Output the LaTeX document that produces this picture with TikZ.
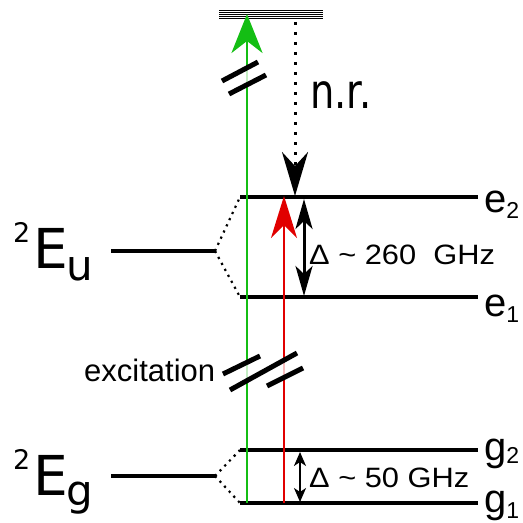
\documentclass[tikz,border=0pt]{standalone}
\usepackage{fontspec}
\setmainfont{Liberation Sans}
\newfontfamily\termfont{DejaVu Sans}
\newfontfamily\nrfont[FakeStretch=0.8]{DejaVu Sans}
\newfontfamily\widefont[FakeStretch=1.1]{Liberation Sans}
\usetikzlibrary{arrows.meta}
\definecolor{excGreen}{RGB}{20,190,20}
\definecolor{excRed}{RGB}{225,0,0}
\tikzset{
  lvl/.style={line width=3.3bp, black},
  topbar/.style={line width=1bp, black},
  splitdots/.style={line width=2.2bp, dash pattern=on 2.2bp off 4.6bp},
  brk/.style={line width=5bp, black},
  brkgap/.style={fill=white, opacity=0.75},
  pumparr/.style={line width=2.8bp, draw=#1, fill=#1,
    -{Stealth[length=39bp,width=31bp,inset=12bp]}},
  probearr/.style={line width=2bp, draw=#1, fill=#1,
    -{Stealth[length=42bp,width=26bp,inset=13bp]}},
  nrarr/.style={line width=3bp, dash pattern=on 3bp off 7bp,
    -{Stealth[length=44bp,width=26bp,inset=14bp]}},
  splitarr/.style={line width=3bp,
    {Stealth[length=30bp,width=17bp,inset=8bp]}-{Stealth[length=30bp,width=17bp,inset=8bp]}},
  smallsplitarr/.style={line width=2bp,
    {Stealth[length=14bp,width=12bp,inset=4bp]}-{Stealth[length=14bp,width=12bp,inset=4bp]}},
  lbl/.style={anchor=base west, inner sep=0pt},
}

\begin{document}
\begin{tikzpicture}[x=1bp,y=-1bp]
  \useasboundingbox (0,0) rectangle (523,523);

  % Level end points
  \coordinate (top1) at (219,15);  \coordinate (top2) at (323,15);
  \coordinate (eu1) at (111,251);  \coordinate (eu2) at (215,251);
  \coordinate (eg1) at (111,476);  \coordinate (eg2) at (215,476);
  \coordinate (e2a) at (240,197);  \coordinate (e2b) at (478,197);
  \coordinate (e1a) at (240,297);  \coordinate (e1b) at (478,297);
  \coordinate (g2a) at (240,450);  \coordinate (g2b) at (478,450);
  \coordinate (g1a) at (240,503);  \coordinate (g1b) at (478,503);

  % Top level
  \foreach \dy in {-4,-2,0,2,4}
    \draw[topbar] ([yshift=\dy bp]top1) -- ([yshift=\dy bp]top2);

  % Levels and splittings
  \draw[lvl] (eu1) -- (eu2);
  \draw[lvl] (eg1) -- (eg2);
  \draw[lvl] (e2a) -- (e2b);
  \draw[lvl] (e1a) -- (e1b);
  \draw[lvl] (g2a) -- (g2b);
  \draw[lvl] (g1a) -- (g1b);
  \draw[splitdots] (eu2) -- (e2a);
  \draw[splitdots] (eu2) -- (e1a);
  \draw[splitdots] (eg2) -- (g2a);
  \draw[splitdots] (eg2) -- (g1a);

  % Transition end points
  \coordinate (grnbot) at (247,503); \coordinate (grntop) at (247,14);
  \coordinate (redbot) at (284,503); \coordinate (redtop) at (284,196);
  \coordinate (nrtop) at (295,22);   \coordinate (nrbot) at (295,196);
  \coordinate (dbtop) at (304,199);  \coordinate (dbbot) at (304,296);
  \coordinate (dstop) at (300,452);  \coordinate (dsbot) at (300,502);

  % Arrows
  \draw[pumparr=excGreen] (grnbot) -- (grntop);
  \draw[probearr=excRed]  (redbot) -- (redtop);
  \draw[nrarr]            (nrtop)  -- (nrbot);
  \draw[splitarr]         (dbtop)  -- (dbbot);
  \draw[smallsplitarr]    (dstop)  -- (dsbot);

  % Break marks
  \fill[brkgap] (222,81) -- (258,62) -- (266,75) -- (229,94) -- cycle;
  \draw[brk] (222,81) -- (258,62);
  \draw[brk] (229,94) -- (266,75);
  \fill[brkgap] (223,374) -- (260,356) -- (260,373.4) -- (230,390) -- cycle;
  \fill[brkgap] (267,369.6) -- (297,353) -- (303,368) -- (267,386) -- cycle;
  \draw[brk] (223,374) -- (260,356);
  \draw[brk] (230,390) -- (297,353);
  \draw[brk] (267,386) -- (303,368);

  % Labels
  \node[lbl, font=\nrfont\fontsize{48bp}{52bp}\selectfont] (lblnr) at (310,109) {n.r.};
  \node[lbl, font=\widefont\fontsize{28bp}{31bp}\selectfont] (lblbig) at (309,264)
    {Δ \textasciitilde{} 260\ \ GHz};
  \node[lbl, font=\widefont\fontsize{28bp}{31bp}\selectfont] (lblsmall) at (309,487)
    {Δ \textasciitilde{} 50 GHz};
  \node[lbl, font=\fontsize{31bp}{35bp}\selectfont] (lblexc) at (84,381) {excitation};

  \node[lbl, font=\fontsize{40bp}{44bp}\selectfont] (lble2) at (484,212)
    {e\raisebox{-6bp}{\fontsize{23bp}{26bp}\selectfont 2}};
  \node[lbl, font=\fontsize{40bp}{44bp}\selectfont] (lble1) at (484,316)
    {e\raisebox{-6bp}{\fontsize{23bp}{26bp}\selectfont 1}};
  \node[lbl, font=\fontsize{40bp}{44bp}\selectfont] (lblg2) at (484,460)
    {g\raisebox{-3bp}{\fontsize{23bp}{26bp}\selectfont 2}};
  \node[lbl, font=\fontsize{40bp}{44bp}\selectfont] (lblg1) at (484,512)
    {g\raisebox{-6bp}{\fontsize{23bp}{26bp}\selectfont 1}};

  \node[lbl, font=\termfont] (lblEu) at (13,268)
    {\raisebox{26bp}{\fontsize{27bp}{30bp}\selectfont 2}\kern3bp\fontsize{55bp}{60bp}\selectfont E\kern-2bp\raisebox{-12bp}{\fontsize{42bp}{46bp}\selectfont u}};
  \node[lbl, font=\termfont] (lblEg) at (13,495)
    {\raisebox{26bp}{\fontsize{27bp}{30bp}\selectfont 2}\kern3bp\fontsize{55bp}{60bp}\selectfont E\kern-2bp\raisebox{-10bp}{\fontsize{42bp}{46bp}\selectfont g}};
\end{tikzpicture}
\end{document}
